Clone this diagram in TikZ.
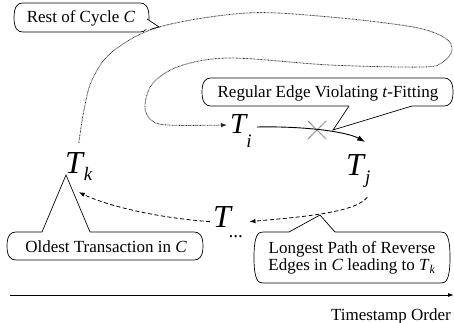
\documentclass[tikz,border=0pt]{standalone}
\usepackage{fontspec}
\setmainfont{Liberation Serif}
\usetikzlibrary{arrows.meta}

% lowered subscript for the transaction labels
\newcommand\tsub[2]{\raisebox{-#1pt}{\fontsize{19}{19}\selectfont #2}}

% callout outline with bowed sides: x1 y1 x2 y2 (y grows downwards)
\newcommand\bowbox[4]{%
  \path[callout] (#1+6,#2) -- (#3-6,#2)
    .. controls (#3-1,#2) and (#3+3,#2+3) .. (#3+3,{(#2+#4)/2})
    .. controls (#3+3,#4-3) and (#3-1,#4) .. (#3-6,#4)
    -- (#1+6,#4)
    .. controls (#1+1,#4) and (#1-3,#4-3) .. (#1-3,{(#2+#4)/2})
    .. controls (#1-3,#2+3) and (#1+1,#2) .. (#1+6,#2) -- cycle;}

\begin{document}
\begin{tikzpicture}[x=1pt,y=-1pt,
  tnode/.style={inner sep=0pt,anchor=base west,font=\fontsize{32}{32}\selectfont\itshape},
  lbl/.style={inner sep=0pt,font=\fontsize{17}{17.5}\selectfont,align=center},
  callout/.style={draw=black,line width=0.7pt,fill=white},
  pointer/.style={draw=black,line width=0.7pt},
  cycle edge/.style={draw=black!85,line width=0.8pt,dash pattern=on 0.7pt off 0.7pt},
  rev edge/.style={draw=black,line width=0.8pt,dash pattern=on 4pt off 2.5pt,-{Latex[length=6pt,width=4.5pt]}},
  reg edge/.style={draw=black,line width=0.9pt,-{Latex[length=8pt,width=5.5pt]}},
  axis/.style={draw=black,line width=0.9pt,-{Latex[length=6pt,width=4pt]}},
]
\useasboundingbox (0,0) rectangle (454,323);

% transactions
\node[tnode] (Tk) at (65,173) {T\kern1pt\tsub{7}{k}};
\node[tnode,font=\fontsize{29}{29}\selectfont\itshape] (Ti) at (230,133) {T\tsub{14}{i}};
\node[tnode] (Tj) at (346,175) {T\kern1pt\tsub{8}{j}};
\node[tnode] (Td) at (213,227) {T\kern-2pt\tsub{10}{...}};

% callouts
\bowbox{17}{3}{146}{32}
\node[lbl] (rest) at (81,18) {Rest of Cycle \textit{C}};
\fill[white] (144,19) -- (147,19) -- (159,27) -- (150,29.5) -- (144,29.5) -- cycle;
\draw[pointer] (147,19) -- (159,27) -- (150,29.5);
\coordinate (restTip) at (159,27);

\bowbox{205}{78}{450}{106}
\node[lbl] (reg) at (328,93) {Regular Edge Violating \textit{t}-Fitting};
\fill[white] (349,103) -- (349,106) -- (333,130) -- (412,106) -- (412,103) -- cycle;
\draw[pointer] (349,106) -- (333,130) -- (412,106);

\bowbox{10}{232}{200}{260}
\node[lbl] (old) at (106,247) {Oldest Transaction in \textit{C}};
\fill[white] (42,235) -- (42,232) -- (66,175) -- (90,232) -- (90,235) -- cycle;
\draw[pointer] (42,232) -- (66,175) -- (90,232);

\bowbox{257}{232}{447}{283}
\node[lbl] (path) at (352,258) {Longest Path of Reverse\\Edges in \textit{C} leading to \textit{T}\textsubscript{\textit{k}}};
\fill[white] (289,235) -- (289,232) -- (320,215) -- (335,232) -- (335,235) -- cycle;
\draw[pointer] (289,232) -- (320,215) -- (335,232);

% rest of the cycle, from T_k round to T_i
\coordinate (TkTop) at ([yshift=9pt]Tk.north);
\coordinate (TiIn) at ([xshift=-3pt,yshift=8pt]Ti.base west);
\draw[cycle edge,-{Latex[length=6pt,width=4.5pt]}] plot[smooth,tension=0.55] coordinates {
  (TkTop) (84,110) (92,80) (112,52) (restTip) (247,13) (330,17) (413,27)
  (445,38) (452,50) (443,62) (423,67) (330,65) (230,58) (180,66)
  (153,83) (145,105) (150,119) (167,125) (TiIn)};

% regular edge T_i -> T_j, crossed out
\draw[reg edge] ([xshift=5pt,yshift=6pt]Ti.base east)
  .. controls (300,126) and (345,131) .. ([xshift=7pt,yshift=12pt]Tj.north);
\coordinate (cross) at (317,130);
\draw[cycle edge] (cross) +(-9,-9) -- +(9,9) (cross) +(-9,9) -- +(9,-9);

% reverse edges
\draw[rev edge] ([xshift=9pt,yshift=-10pt]Tj.south)
  .. controls (355,213) and (300,217) .. ([xshift=6pt]Td.east);
\draw[rev edge] ([xshift=-3pt]Td.west)
  .. controls (160,218) and (110,207) .. ([yshift=-12pt]Tk.south);

% timestamp axis
\coordinate (axL) at (10,295);
\coordinate (axR) at (454,295);
\draw[axis] (axL) -- (axR);
\node[lbl,anchor=base east] (ts) at (451,320) {Timestamp Order};
\end{tikzpicture}
\end{document}
